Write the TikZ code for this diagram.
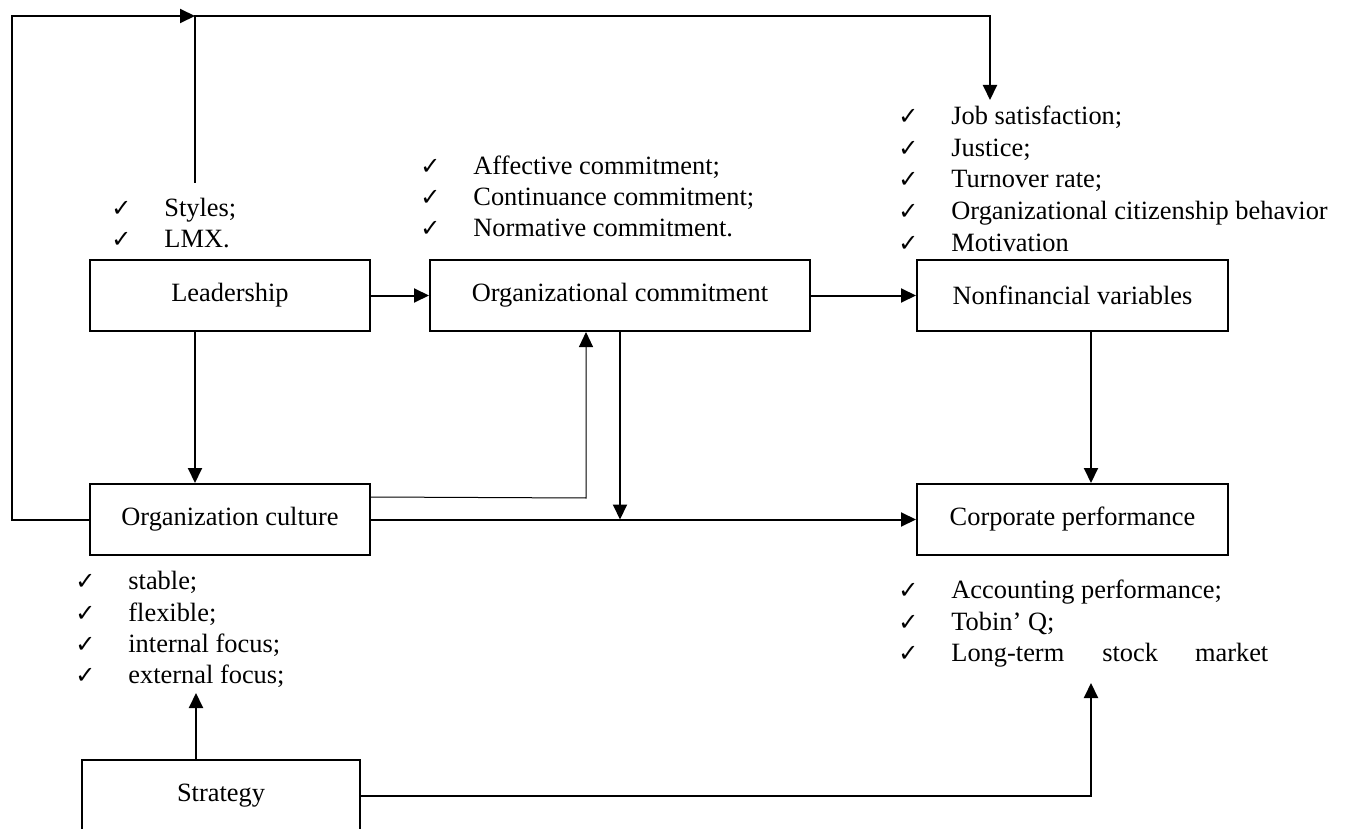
\documentclass[tikz,border=0pt]{standalone}
\usepackage{fontspec}
\setmainfont{Liberation Serif}
\newfontfamily\tickfont{DejaVu Sans}
\usetikzlibrary{arrows.meta}

\newcommand{\tick}{\makebox[26.5pt][l]{\tickfont\fontsize{12}{12}\selectfont ✓}}

\tikzset{
  box/.style={draw, line width=1pt, minimum width=140pt, minimum height=35.5pt, inner sep=0pt},
  item/.style={anchor=west, inner sep=0pt, text height=9.5pt, text depth=3pt},
  arrow/.style={line width=1pt, -{Triangle[length=7.5pt,width=7pt]}},
  thinarrow/.style={line width=0.5pt, -{Triangle[length=7.5pt,width=7pt]}},
}

\begin{document}
\begin{tikzpicture}[x=0.5pt, y=-0.5pt, font=\fontsize{13.2}{15.75}\selectfont]
  \useasboundingbox (0,0) rectangle (1351,829);

  % boxes
  \node[box] (lead) at (230,295.5) {Leadership};
  \node[box, minimum width=190pt] (orgcom) at (620,295.5) {Organizational commitment};
  \node[box, minimum width=155.5pt] (nonfin) at (1072.5,295.5) {Nonfinancial variables};
  \node[box] (culture) at (230,519.5) {Organization culture};
  \node[box, minimum width=155.5pt] (corpperf) at (1072.5,519.5) {Corporate performance};
  \node[box, minimum width=139pt] (strategy) at (221,795.5) {Strategy};

  % check lists
  \foreach \t [count=\i] in {Styles;, LMX.}
    \node[item] (leadlist\i) at (111,{179+31*\i}) {\tick\t};
  \foreach \t [count=\i] in {Affective commitment;, Continuance commitment;, Normative commitment.}
    \node[item] (comlist\i) at (420,{137+31*\i}) {\tick\t};
  \foreach \t [count=\i] in {Job satisfaction;, Justice;, Turnover rate;, Organizational citizenship behavior, Motivation}
    \node[item] (nonfinlist\i) at (898,{87+31.5*\i}) {\tick\t};
  \foreach \t [count=\i] in {stable;, flexible;, internal focus;, external focus;}
    \node[item] (culturelist\i) at (75,{552+31.3*\i}) {\tick\t};
  \foreach \t [count=\i] in {Accounting performance;, Tobin' Q;, Long-term\hspace{19pt}stock\hspace{18.5pt}market}
    \node[item] (perflist\i) at (898,{560.5+31.5*\i}) {\tick\t};

  % bends of the connectors
  \coordinate (leadup) at (195,183);
  \coordinate (topleft) at (12,16);
  \coordinate (toplead) at (195,16);
  \coordinate (topright) at (990,16);
  \coordinate (nonfintip) at (990,100);
  \coordinate (comup) at (586,498);
  \coordinate (perfup) at (1091,683);
  \coordinate (stratup) at (196,693);

  % connectors
  \draw[arrow] (culture.west) -- (culture.west -| topleft) -- (topleft) -- (toplead);
  \draw[arrow] (leadup) -- (toplead) -- (topright) -- (nonfintip);
  \draw[arrow] (lead) -- (orgcom);
  \draw[arrow] (orgcom) -- (nonfin);
  \draw[arrow] (leadup |- lead.south) -- (leadup |- culture.north);
  \draw[arrow] (perfup |- nonfin.south) -- (perfup |- corpperf.north);
  \draw[arrow] (culture) -- (corpperf);
  \draw[arrow] (orgcom.south) -- (orgcom.south |- culture.east);
  \draw[thinarrow] ([yshift=-7pt]culture.north east) -- (comup) -- (comup |- orgcom.south);
  \draw[arrow] (stratup |- strategy.north) -- (stratup);
  \draw[arrow] (strategy.east) -- (strategy.east -| perfup) -- (perfup);
\end{tikzpicture}
\end{document}
